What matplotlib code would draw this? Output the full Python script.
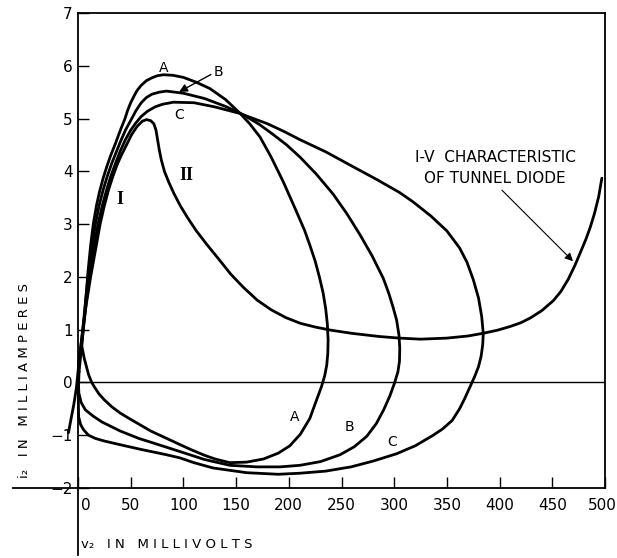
"Tunnel diode I-V characteristic with trajectories A, B, C."
import matplotlib.pyplot as plt
from matplotlib.transforms import ScaledTranslation

# I-V characteristic of the tunnel diode (v2 in mV, i2 in mA)
iv_v = [-9, -6.5, -4, -1.5, 0.5, 2.5, 4.5, 8, 12, 16.5, 21, 25, 29, 33, 37, 41, 46,
        51, 56, 61, 65, 69, 72, 74, 75.5, 77, 79, 82, 86, 91, 97, 104, 112, 122,
        133, 145, 157, 170, 183, 197, 211, 225, 240, 260, 286, 305, 325, 350, 370,
        384, 398, 410, 420, 429, 440, 451, 458, 465, 471.5, 477, 482, 486, 490,
        494, 497]
iv_i = [-0.95, -0.68, -0.42, -0.1, 0.3, 0.65, 1.0, 1.5, 2.0, 2.5, 3.0, 3.35, 3.65,
        3.9, 4.12, 4.3, 4.5, 4.7, 4.85, 4.95, 4.98, 4.96, 4.9, 4.78, 4.6, 4.42,
        4.22, 4.0, 3.8, 3.58, 3.35, 3.12, 2.88, 2.62, 2.35, 2.05, 1.8, 1.56, 1.38,
        1.23, 1.12, 1.05, 0.99, 0.93, 0.87, 0.84, 0.82, 0.84, 0.88, 0.93, 0.99,
        1.06, 1.13, 1.22, 1.36, 1.55, 1.72, 1.95, 2.22, 2.48, 2.72, 2.94, 3.2,
        3.52, 3.87]

# trajectory A
a_v = [3.5, 5, 7.5, 9.5, 12, 14.5, 17.5, 20.5, 24, 27.5, 31, 35, 40, 44.6, 47, 50,
       53, 56, 60, 65, 70, 75, 81, 90, 100, 112, 125, 140, 153.7, 163, 172.7, 183,
       194.8, 207, 215, 220, 225, 229, 232.5, 235, 236.6, 237.3, 237, 236, 234,
       231, 226, 220, 211, 201, 190, 176, 160, 144, 130, 120, 108, 97, 83, 69, 50,
       40, 32, 25, 20, 16, 13, 10, 8, 6, 4.5, 3.5]
a_i = [0.7, 1.0, 1.6, 2.1, 2.6, 3.0, 3.35, 3.62, 3.88, 4.1, 4.3, 4.5, 4.77, 5.0,
       5.15, 5.3, 5.42, 5.53, 5.63, 5.72, 5.77, 5.81, 5.83, 5.82, 5.78, 5.69,
       5.57, 5.36, 5.1, 4.9, 4.65, 4.28, 3.8, 3.25, 2.88, 2.6, 2.3, 2.0, 1.7, 1.4,
       1.1, 0.8, 0.55, 0.33, 0.12, -0.08, -0.35, -0.68, -0.98, -1.2, -1.34, -1.45,
       -1.51, -1.52, -1.45, -1.38, -1.28, -1.18, -1.05, -0.92, -0.7, -0.58, -0.46,
       -0.33, -0.22, -0.1, 0.0, 0.15, 0.3, 0.45, 0.6, 0.7]

# trajectory B
b_v = [0.5, 4.5, 7, 9.5, 13, 16.5, 20, 24, 28, 32, 36, 40, 45, 51, 55, 60, 65, 70,
       77, 84, 100, 120, 140, 157, 172, 185, 198, 210.6, 226, 242, 255, 267.5, 279,
       289.7, 295, 299, 302.3, 304.5, 305.3, 305, 303.5, 300.5, 296, 290, 283, 274,
       262, 248.6, 230, 210.6, 191.6, 170, 144, 120, 96.8, 75, 57.6, 40, 22.8,
       14.5, 7, 3, 0.8, 0.3, 0.5]
b_i = [0.3, 1.0, 1.5, 2.0, 2.55, 3.0, 3.35, 3.66, 3.92, 4.15, 4.35, 4.55, 4.78, 5.0,
       5.15, 5.3, 5.4, 5.46, 5.5, 5.52, 5.48, 5.38, 5.23, 5.07, 4.89, 4.7, 4.5,
       4.27, 3.95, 3.57, 3.2, 2.8, 2.4, 1.97, 1.68, 1.42, 1.18, 0.9, 0.65, 0.4,
       0.2, 0.0, -0.25, -0.52, -0.78, -1.02, -1.22, -1.37, -1.5, -1.57, -1.6, -1.6,
       -1.57, -1.46, -1.31, -1.17, -1.06, -0.92, -0.75, -0.64, -0.52, -0.38, -0.2,
       0.05, 0.3]

# trajectory C
c_v = [1, 5, 8, 11, 15, 19, 23, 27, 31, 35, 40, 45, 50, 55, 60, 66, 73, 80, 90.5,
       110, 130, 153, 180, 196, 210.6, 235, 258, 283, 305, 318, 335, 350, 362, 369,
       375, 380, 383, 384.5, 384, 382.5, 380, 376.5, 372, 367, 362, 355, 346, 337,
       320, 302.4, 280, 259, 235, 210.6, 190, 160, 128, 110, 96.8, 84, 60, 40, 25,
       16.4, 10, 5.4, 2.5, 0.6, 0.2, 1]
c_i = [0.2, 1.0, 1.55, 2.0, 2.55, 3.0, 3.35, 3.64, 3.9, 4.12, 4.38, 4.6, 4.78, 4.92,
       5.04, 5.14, 5.22, 5.27, 5.31, 5.3, 5.22, 5.1, 4.9, 4.75, 4.6, 4.37, 4.12,
       3.85, 3.6, 3.42, 3.15, 2.87, 2.55, 2.28, 1.95, 1.6, 1.25, 0.93, 0.72, 0.5,
       0.3, 0.12, -0.08, -0.3, -0.5, -0.72, -0.88, -1.0, -1.2, -1.35, -1.49, -1.6,
       -1.68, -1.72, -1.74, -1.71, -1.62, -1.52, -1.43, -1.37, -1.27, -1.18, -1.11,
       -1.06, -1.0, -0.9, -0.8, -0.65, -0.2, 0.2]

x_ticks = list(range(0, 501, 50))
y_ticks = list(range(-2, 8))

W, H = 617, 558
fig = plt.figure(figsize=(W / 100, H / 100), dpi=100)
ax = fig.add_axes([78 / W, 1 - 488 / H, 527 / W, 475 / H])
ax.set_xlim(0, 500)
ax.set_ylim(-2, 7)

for v, i in [(iv_v, iv_i), (a_v, a_i), (b_v, b_i), (c_v, c_i)]:
    ax.plot(v, i, color="black", lw=2.0, clip_on=False,
            solid_joinstyle="round", solid_capstyle="round")

ax.axhline(0, color="black", lw=1.0)

for s in ax.spines.values():
    s.set_linewidth(1.3)
# axis lines running past the corner
ax.plot([0, 0], [-0.14, 0], transform=ax.transAxes, color="black", lw=1.3, clip_on=False)
ax.plot([-0.123, 0], [0, 0], transform=ax.transAxes, color="black", lw=1.3, clip_on=False)

ax.set_xticks(x_ticks)
ax.set_yticks(y_ticks)
ax.tick_params(direction="in", length=8, width=1, labelsize=11)
ax.tick_params(axis="x", pad=7)
ax.tick_params(axis="y", pad=4)
xlabels = ax.get_xticklabels()
xlabels[0].set_transform(xlabels[0].get_transform()
                         + ScaledTranslation(8 / 100, 0, fig.dpi_scale_trans))
xlabels[-1].set_transform(xlabels[-1].get_transform()
                          + ScaledTranslation(-3 / 100, 0, fig.dpi_scale_trans))

txt = dict(ha="center", va="center", fontsize=10)
ax.text(81, 5.95, "A", **txt)
ax.text(133, 5.89, "B", **txt)
ax.text(96, 5.07, "C", **txt)
ax.text(206, -0.65, "A", **txt)
ax.text(258, -0.84, "B", **txt)
ax.text(297.6, -1.12, "C", **txt)
ax.annotate("", xy=(93.6, 5.48), xytext=(128.4, 5.86),
            arrowprops=dict(arrowstyle="-|>", color="black", lw=1.0, mutation_scale=12))

roman = dict(ha="center", va="center", fontsize=13, family="Liberation Serif", weight="bold")
ax.text(39.8, 3.46, "I", **roman)
ax.text(103, 3.93, "II", **roman)

ax.text(395.6, 4.27, "I-V  CHARACTERISTIC", ha="center", va="center", fontsize=11)
ax.text(395.6, 3.87, "OF TUNNEL DIODE", ha="center", va="center", fontsize=11)
ax.annotate("", xy=(471.5, 2.26), xytext=(400.4, 3.68),
            arrowprops=dict(arrowstyle="-|>", color="black", lw=0.8, mutation_scale=12))

fig.text(25 / W, 1 - 380 / H, "i\u2082   I N   M I L L I A M P E R E S",
         rotation=90, ha="center", va="center", fontsize=9.5)
fig.text(81 / W, 1 - 545 / H, "v\u2082   I N   M I L L I V O L T S",
         ha="left", va="center", fontsize=9.5)

fig.savefig("out.png", dpi=100)
